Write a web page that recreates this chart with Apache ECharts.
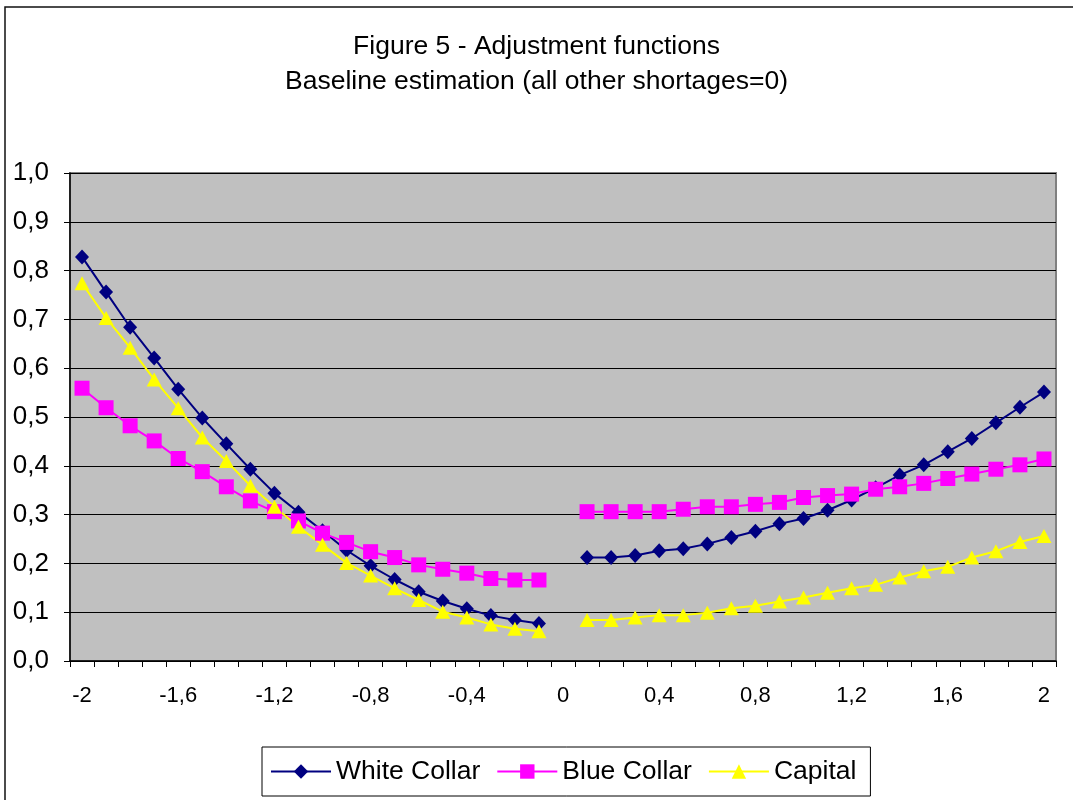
<!DOCTYPE html>
<html>
<head>
<meta charset="utf-8">
<script src="https://cdn.jsdelivr.net/npm/echarts@6/dist/echarts.min.js"></script>
<style>
html,body{margin:0;padding:0;background:#fff;}
#chart{width:1073px;height:800px;}
</style>
</head>
<body>
<div id="chart"></div>
<script>
var categories = ["-2","-1,9","-1,8","-1,7","-1,6","-1,5","-1,4","-1,3","-1,2","-1,1",
  "-1","-0,9","-0,8","-0,7","-0,6","-0,5","-0,4","-0,3","-0,2","-0,1",
  "0","0,1","0,2","0,3","0,4","0,5","0,6","0,7","0,8","0,9",
  "1","1,1","1,2","1,3","1,4","1,5","1,6","1,7","1,8","1,9","2"];

var whiteCollar = [0.828,0.756,0.684,0.621,0.557,0.498,0.445,0.393,0.344,0.305,
  0.267,0.227,0.195,0.167,0.142,0.123,0.107,0.093,0.084,0.077,
  null,
  0.212,0.212,0.216,0.226,0.230,0.240,0.253,0.266,0.281,0.292,
  0.309,0.330,0.355,0.381,0.402,0.429,0.456,0.488,0.520,0.551];

var blueCollar = [0.559,0.519,0.482,0.451,0.415,0.388,0.357,0.328,0.306,0.287,
  0.262,0.243,0.224,0.212,0.197,0.188,0.180,0.169,0.166,0.166,
  null,
  0.306,0.306,0.306,0.306,0.311,0.316,0.316,0.321,0.325,0.335,
  0.339,0.342,0.352,0.357,0.364,0.374,0.383,0.393,0.402,0.414];

var capital = [0.774,0.703,0.642,0.577,0.518,0.458,0.410,0.359,0.316,0.275,
  0.238,0.201,0.175,0.149,0.125,0.101,0.089,0.075,0.066,0.061,
  null,
  0.084,0.084,0.089,0.094,0.094,0.099,0.108,0.113,0.122,0.130,
  0.140,0.149,0.156,0.171,0.184,0.193,0.212,0.225,0.244,0.256];

var seriesNames = ["White Collar","Blue Collar","Capital"];
var titleLines = ["Figure 5 - Adjustment functions","Baseline estimation (all other shortages=0)"];

var FONT = "'Liberation Sans', Arial, sans-serif";
var chart = echarts.init(document.getElementById('chart'), null, {renderer:'canvas'});

var option = {
  animation: false,
  backgroundColor: '#ffffff',
  textStyle: {fontFamily: FONT, color: '#000'},
  title: {
    text: titleLines.join('\n'),
    left: 'center',
    top: 29,
    padding: 0,
    textStyle: {fontFamily: FONT, fontSize: 26.5, fontWeight: 'normal', color: '#000', lineHeight: 35}
  },
  graphic: [{
    type: 'rect',
    shape: {x: 5, y: 7, width: 1200, height: 1000},
    style: {fill: 'none', stroke: '#111', lineWidth: 1.5},
    silent: true,
    z: -1
  }],
  legend: {
    left: 262,
    top: 747,
    padding: [11, 14, 11, 8],
    itemWidth: 60,
    itemHeight: 18,
    itemGap: 16,
    backgroundColor: '#fff',
    borderColor: '#000',
    borderWidth: 1,
    borderRadius: 0,
    textStyle: {fontFamily: FONT, fontSize: 26.5, color: '#000', padding: [0,0,0,0]},
    data: seriesNames
  },
  grid: {
    left: 70, top: 173, right: 17, bottom: 139,
    show: true,
    backgroundColor: '#C0C0C0',
    borderColor: '#808080',
    borderWidth: 2
  },
  xAxis: {
    type: 'category',
    data: categories,
    boundaryGap: true,
    axisLine: {show: true, lineStyle: {color: '#000', width: 1.5}},
    axisTick: {show: true, interval: 0, length: 6, inside: false, alignWithLabel: false, lineStyle: {color: '#000', width: 1}},
    axisLabel: {interval: 3, margin: 24, fontFamily: FONT, fontSize: 22, color: '#000'},
    splitLine: {show: false}
  },
  yAxis: {
    type: 'value',
    min: 0, max: 1, interval: 0.1,
    axisLine: {show: true, lineStyle: {color: '#000', width: 1.5}},
    axisTick: {show: true, length: 6, inside: false, lineStyle: {color: '#000', width: 1}},
    axisLabel: {
      margin: 21, fontFamily: FONT, fontSize: 26, color: '#000',
      formatter: function (v) { return v.toFixed(1).replace('.', ','); }
    },
    splitLine: {show: true, lineStyle: {color: '#000', width: 1}}
  },
  series: [
    {
      name: seriesNames[0], type: 'line', data: whiteCollar, connectNulls: false,
      symbol: 'diamond', symbolSize: [14, 15], showAllSymbol: true,
      lineStyle: {color: '#000080', width: 2},
      itemStyle: {color: '#000080'}
    },
    {
      name: seriesNames[1], type: 'line', data: blueCollar, connectNulls: false,
      symbol: 'rect', symbolSize: 15, showAllSymbol: true,
      lineStyle: {color: '#FF00FF', width: 2},
      itemStyle: {color: '#FF00FF'}
    },
    {
      name: seriesNames[2], type: 'line', data: capital, connectNulls: false,
      symbol: 'triangle', symbolSize: [15, 14], showAllSymbol: true,
      lineStyle: {color: '#FFFF00', width: 2},
      itemStyle: {color: '#FFFF00'}
    }
  ]
};
chart.setOption(option);
</script>
</body>
</html>
